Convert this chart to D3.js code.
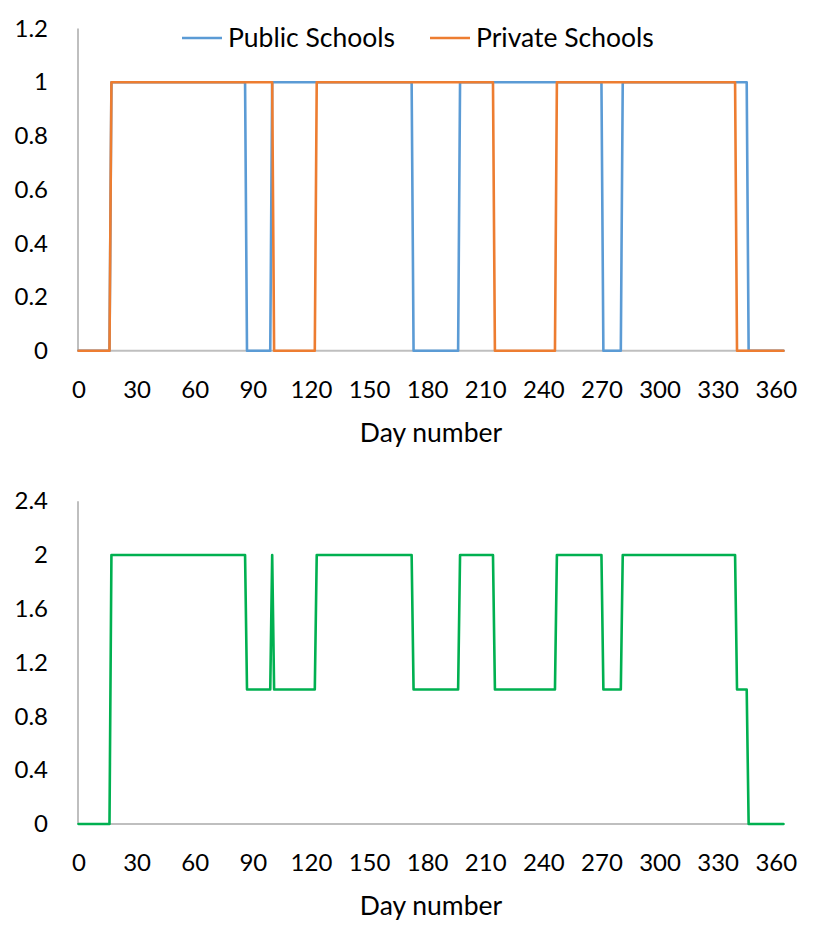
<!DOCTYPE html>
<html><head><meta charset="utf-8">
<script src="https://cdn.jsdelivr.net/npm/d3@7"></script>
<style>
html,body{margin:0;padding:0;background:#fff;}
svg{display:block;}
text{font-family:Lato,"Open Sans",sans-serif;fill:#000;}
</style></head>
<body>
<svg id="chart" width="828" height="946"></svg>
<script>
// ---- data (breakpoints of daily step series: [day, value]) ----
const publicDays   = [0,16,17,86,87,99,100,172,173,196,197,270,271,280,281,345,346,364];
const publicVals   = [0, 0, 1, 1, 0, 0,  1,  1,  0,  0,  1,  1,  0,  0,  1,  1,  0,  0];
const privateDays  = [0,16,17,100,101,122,123,214,215,246,247,339,340,364];
const privateVals  = [0, 0, 1,  1,  0,  0,  1,  1,  0,  0,  1,  1,  0,  0];
const totalDays    = [0,16,17,86,87,99,100,101,122,123,172,173,196,197,214,215,246,247,270,271,280,281,339,340,345,346,364];
const totalVals    = [0, 0, 2, 2, 1, 1,  2,  1,  1,  2,  2,  1,  1,  2,  2,  1,  1,  2,  2,  1,  1,  2,  2,  1,  1,  0,  0];
const xTicks       = [0,30,60,90,120,150,180,210,240,270,300,330,360];
const yTicksTop    = [0,0.2,0.4,0.6,0.8,1,1.2];
const yTicksBottom = [0,0.4,0.8,1.2,1.6,2,2.4];
const seriesNames  = ["Public Schools","Private Schools"];
const xTitle       = "Day number";

const svg = d3.select("#chart");
const colBlue = "#5B9BD5", colOrange = "#ED7D31", colGreen = "#00B050", axisCol = "#BFBFBF";

const x = d3.scaleLinear().domain([0, 364]).range([78.5, 783.5]);

function panel(yTop, yBottom, yMax, ticks, series, titleY, labelY) {
  const y = d3.scaleLinear().domain([0, yMax]).range([yBottom, yTop]);
  const g = svg.append("g");
  // y axis
  const ya = g.append("g").attr("transform", "translate(78,0)")
    .call(d3.axisLeft(y).tickValues(ticks).tickSize(0).tickPadding(30).tickFormat(d => String(+d.toFixed(1))));
  ya.select(".domain").attr("stroke", axisCol).attr("stroke-width", 2).attr("d", `M0,${yTop}V${yBottom}`);
  ya.selectAll("text").attr("font-size", 24).attr("font-family", "Lato").attr("fill", "#000");
  // x axis
  const xa = g.append("g").attr("transform", `translate(0,${yBottom})`)
    .call(d3.axisBottom(x).tickValues(xTicks).tickSize(0).tickPadding(labelY - yBottom - 8));
  xa.select(".domain").attr("stroke", axisCol).attr("stroke-width", 2).attr("d", `M78,0H784`);
  xa.selectAll("text").attr("font-size", 24).attr("font-family", "Lato").attr("fill", "#000");
  // title
  g.append("text").attr("x", 431).attr("y", titleY).attr("text-anchor", "middle")
    .attr("font-size", 26.5).text(xTitle);
  // lines
  const line = d3.line().x(d => x(d[0])).y(d => y(d[1]));
  series.forEach(s => {
    g.append("path").attr("d", line(s.days.map((d, i) => [d, s.vals[i]])))
      .attr("fill", "none").attr("stroke", s.color).attr("stroke-width", 2.6)
      .attr("stroke-linejoin", "round").attr("stroke-linecap", "round");
  });
  return y;
}

panel(28.6, 350.7, 1.2, yTicksTop, [
  {days: publicDays, vals: publicVals, color: colBlue},
  {days: privateDays, vals: privateVals, color: colOrange}
], 442, 389);

panel(501.2, 824, 2.4, yTicksBottom, [
  {days: totalDays, vals: totalVals, color: colGreen}
], 915, 862);

// legend
const leg = svg.append("g");
[{name: seriesNames[0], color: colBlue, x: 182}, {name: seriesNames[1], color: colOrange, x: 430}].forEach(l => {
  leg.append("line").attr("x1", l.x).attr("x2", l.x + 40).attr("y1", 38).attr("y2", 38)
    .attr("stroke", l.color).attr("stroke-width", 2.6);
  leg.append("text").attr("x", l.x + 46).attr("y", 38).attr("dy", "0.35em")
    .attr("font-size", 26.5).text(l.name);
});
</script>
</body></html>
